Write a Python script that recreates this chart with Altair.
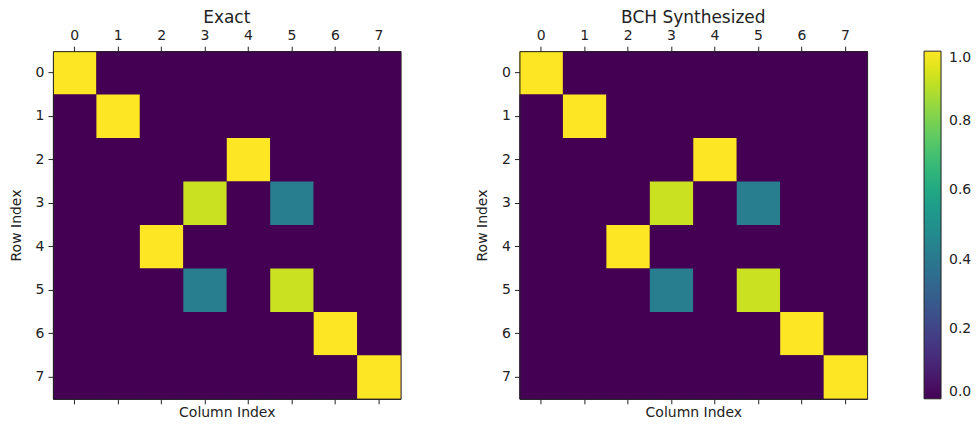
import altair as alt
import pandas as pd

rows = [0, 1, 2, 3, 4, 5, 6, 7]
cols = [0, 1, 2, 3, 4, 5, 6, 7]
exact = [
    [1, 0, 0, 0, 0, 0, 0, 0],
    [0, 1, 0, 0, 0, 0, 0, 0],
    [0, 0, 0, 0, 1, 0, 0, 0],
    [0, 0, 0, 0.92, 0, 0.42, 0, 0],
    [0, 0, 1, 0, 0, 0, 0, 0],
    [0, 0, 0, 0.42, 0, 0.92, 0, 0],
    [0, 0, 0, 0, 0, 0, 1, 0],
    [0, 0, 0, 0, 0, 0, 0, 1],
]
bch = [
    [1, 0, 0, 0, 0, 0, 0, 0],
    [0, 1, 0, 0, 0, 0, 0, 0],
    [0, 0, 0, 0, 1, 0, 0, 0],
    [0, 0, 0, 0.92, 0, 0.42, 0, 0],
    [0, 0, 1, 0, 0, 0, 0, 0],
    [0, 0, 0, 0.42, 0, 0.92, 0, 0],
    [0, 0, 0, 0, 0, 0, 1, 0],
    [0, 0, 0, 0, 0, 0, 0, 1],
]
titles = ["Exact", "BCH Synthesized"]
cbar_ticks = [0.0, 0.2, 0.4, 0.6, 0.8, 1.0]

FONT = "DejaVu Sans"

cscale = alt.Scale(scheme="viridis", domain=[0, 1])


def to_df(m):
    return pd.DataFrame(
        [{"row": r, "col": c, "value": m[r][c]} for r in rows for c in cols]
    )


color = alt.Color(
    "value:Q",
    scale=cscale,
    legend=alt.Legend(
        type="gradient",
        title=None,
        orient="right",
        offset=56,
        direction="vertical",
        gradientLength=348,
        gradientThickness=17,
        gradientStrokeColor="#222",
        gradientStrokeWidth=1,
        values=cbar_ticks,
        format=".1f",
        labelFontSize=14,
        labelFont=FONT,
        labelColor="#222",
        labelOffset=8,
        labelBaseline="middle",
    ),
)


def panel(m, title):
    base = alt.Chart(to_df(m))
    sc_x = alt.Scale(paddingInner=0, paddingOuter=0)
    sc_y = alt.Scale(paddingInner=0, paddingOuter=0)
    y_axis = alt.Axis(title="Row Index", grid=False)
    top = base.mark_rect().encode(
        x=alt.X("col:O", scale=sc_x,
                axis=alt.Axis(orient="top", title=None, labelAngle=0, grid=False)),
        y=alt.Y("row:O", scale=sc_y, axis=y_axis),
        color=color,
    )
    bottom = base.mark_rect(opacity=0).encode(
        x=alt.X("col:O", scale=sc_x,
                axis=alt.Axis(orient="bottom", labels=False, title="Column Index",
                              titlePadding=1, grid=False)),
        y=alt.Y("row:O", scale=sc_y, axis=y_axis),
    )
    return (
        alt.layer(top, bottom)
        .resolve_axis(x="independent")
        .properties(
            width=348,
            height=348,
            title=alt.TitleParams(title, offset=1, fontSize=17, font=FONT,
                                  fontWeight="normal", color="#222", anchor="middle"),
        )
    )


chart = (
    alt.hconcat(panel(exact, titles[0]), panel(bch, titles[1]), spacing=73)
    .properties(padding={"left": 0, "top": 0, "right": 0, "bottom": 0})
    .configure_view(stroke="#222", strokeWidth=1, fill="#440154")
    .configure_axis(
        grid=False,
        domainColor="#222",
        tickColor="#222",
        tickSize=5,
        labelPadding=4,
        labelFont=FONT,
        labelFontSize=14,
        labelColor="#222",
        titleFont=FONT,
        titleFontSize=14,
        titleFontWeight="normal",
        titleColor="#222",
        titlePadding=12,
    )
)

chart.save("out.html", embed_options={"renderer": "svg", "actions": False})
